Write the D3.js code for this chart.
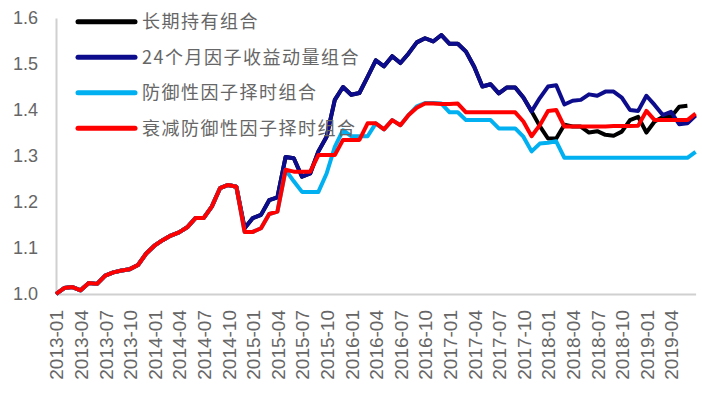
<!DOCTYPE html>
<html>
<head>
<meta charset="UTF-8">
<title>组合净值</title>
<style>
  body { margin: 0; background: #fff; }
  svg text { font-family: "Liberation Sans", Arial, sans-serif; }
  .legend text { font-family: "Noto Sans CJK SC", sans-serif; }
</style>
</head>
<body>
<div id="chart"></div>
<script src="https://cdn.jsdelivr.net/npm/d3@7"></script>
<script>
// months 2013-01 .. 2019-07
var months = [];
for (var yr = 2013; yr <= 2019; yr++) {
  for (var m = 1; m <= 12; m++) {
    if (yr === 2019 && m > 7) break;
    months.push(yr + "-" + (m < 10 ? "0" + m : m));
  }
}
// quarterly labels, the last shown is 2019-04
var tickLabels = months.filter(function(d, i) { return i % 3 === 0 && d <= "2019-04"; });
var yTicks = [1.0, 1.1, 1.2, 1.3, 1.4, 1.5, 1.6];

var seriesNames = ["长期持有组合", "24个月因子收益动量组合", "防御性因子择时组合", "衰减防御性因子择时组合"];

// shared path 2013-01 .. 2014-11
var common = [1.000, 1.013, 1.015, 1.008, 1.024, 1.022, 1.040, 1.047, 1.051, 1.054,
  1.063, 1.088, 1.105, 1.117, 1.127, 1.134, 1.145, 1.165, 1.165, 1.190,
  1.230, 1.237, 1.233];

var momentum = common.concat([1.143, 1.165, 1.172, 1.204, 1.210, 1.298, 1.295,
  1.255, 1.262, 1.310, 1.342, 1.422, 1.450, 1.433, 1.437, 1.472, 1.508, 1.495,
  1.517, 1.502, 1.523, 1.547, 1.556, 1.549, 1.563, 1.544, 1.544, 1.527, 1.494,
  1.451, 1.456, 1.436, 1.449, 1.449, 1.427, 1.397, 1.426, 1.451, 1.454, 1.412,
  1.420, 1.422, 1.434, 1.431, 1.440, 1.440, 1.427, 1.400, 1.398, 1.431, 1.411,
  1.389, 1.396, 1.369, 1.371, 1.388]);

var holdTail = [1.365, 1.338, 1.338, 1.368, 1.364, 1.364, 1.351, 1.354, 1.346,
  1.344, 1.353, 1.378, 1.385, 1.351, 1.375, 1.385, 1.385, 1.407, 1.409, null];
var hold = momentum.slice(0, 59).concat(holdTail);

var decay = common.concat([1.135, 1.135, 1.143, 1.174, 1.179, 1.270, 1.266,
  1.266, 1.266, 1.302, 1.302, 1.302, 1.335, 1.335, 1.335, 1.371, 1.371, 1.358,
  1.378, 1.367, 1.389, 1.405, 1.414, 1.414, 1.413, 1.413, 1.414, 1.395, 1.395,
  1.395, 1.395, 1.395, 1.395, 1.395, 1.375, 1.343, 1.367, 1.398, 1.400, 1.364,
  1.364, 1.364, 1.364, 1.364, 1.364, 1.365, 1.365, 1.365, 1.366, 1.398, 1.378,
  1.378, 1.378, 1.378, 1.378, 1.392]);

var defensive = decay.slice(0, 28).concat([1.270, 1.245, 1.222, 1.222, 1.222,
  1.262, 1.320, 1.356, 1.343, 1.343, 1.343, 1.371, 1.358, 1.378, 1.367, 1.389,
  1.408, 1.415, 1.415, 1.414, 1.395, 1.395, 1.378, 1.378, 1.378, 1.378, 1.360,
  1.360, 1.360, 1.342, 1.310, 1.327, 1.329, 1.332, 1.296, 1.296, 1.296, 1.296,
  1.296, 1.296, 1.296, 1.296, 1.296, 1.296, 1.296, 1.296, 1.296, 1.296, 1.296,
  1.296, 1.309]);

var colors = ["#000000", "#0c0c8c", "#00b0f0", "#ff0000"];
var allSeries = [hold, momentum, defensive, decay];

var width = 702, height = 393;
var plotLeft = 56, plotRight = 695.6, plotTop = 18, plotBottom = 294;

var svg = d3.select("#chart").append("svg")
  .attr("width", width)
  .attr("height", height);

var x = d3.scalePoint().domain(months).range([plotLeft, plotRight]);
var y = d3.scaleLinear().domain([1.0, 1.6]).range([plotBottom, plotTop]);

// y axis
var yAxis = d3.axisLeft(y)
  .tickValues(yTicks)
  .tickFormat(d3.format(".1f"))
  .tickSize(0)
  .tickSizeOuter(0)
  .tickPadding(18);
var gy = svg.append("g")
  .attr("transform", "translate(" + plotLeft + ",0)")
  .call(yAxis);
gy.select(".domain").attr("stroke", "#d0d0d0").attr("stroke-width", 2);
gy.selectAll("text")
  .attr("font-size", "18px")
  .attr("fill", "#666");

// x axis
var xAxis = d3.axisBottom(x)
  .tickValues(tickLabels)
  .tickSize(0)
  .tickSizeOuter(0);
var gx = svg.append("g")
  .attr("transform", "translate(0," + plotBottom + ")")
  .call(xAxis);
gx.select(".domain").attr("stroke", "#d0d0d0").attr("stroke-width", 2);
gx.selectAll("text")
  .attr("font-size", "19px")
  .attr("fill", "#666")
  .attr("transform", "rotate(-90)")
  .attr("text-anchor", "end")
  .attr("x", -16)
  .attr("y", 0)
  .attr("dy", "0.36em");

// lines
var line = d3.line()
  .defined(function(d) { return d != null; })
  .x(function(d, i) { return x(months[i]); })
  .y(function(d) { return y(d); });

svg.selectAll(".series")
  .data(allSeries)
  .join("path")
  .attr("class", "series")
  .attr("fill", "none")
  .attr("stroke", function(d, i) { return colors[i]; })
  .attr("stroke-width", 4)
  .attr("stroke-linejoin", "round")
  .attr("d", line);

// legend
var legend = svg.append("g").attr("class", "legend");
var item = legend.selectAll("g")
  .data(seriesNames)
  .join("g")
  .attr("transform", function(d, i) { return "translate(78," + (21.7 + i * 35.5) + ")"; });
item.append("line")
  .attr("x1", 0).attr("x2", 57)
  .attr("stroke", function(d, i) { return colors[i]; })
  .attr("stroke-width", 5)
  .attr("stroke-linecap", "round");
item.append("text")
  .attr("x", 64)
  .attr("dy", "0.35em")
  .attr("font-size", "18px")
  .attr("letter-spacing", "1.5px")
  .attr("fill", "#666")
  .text(function(d) { return d; });
</script>
</body>
</html>
